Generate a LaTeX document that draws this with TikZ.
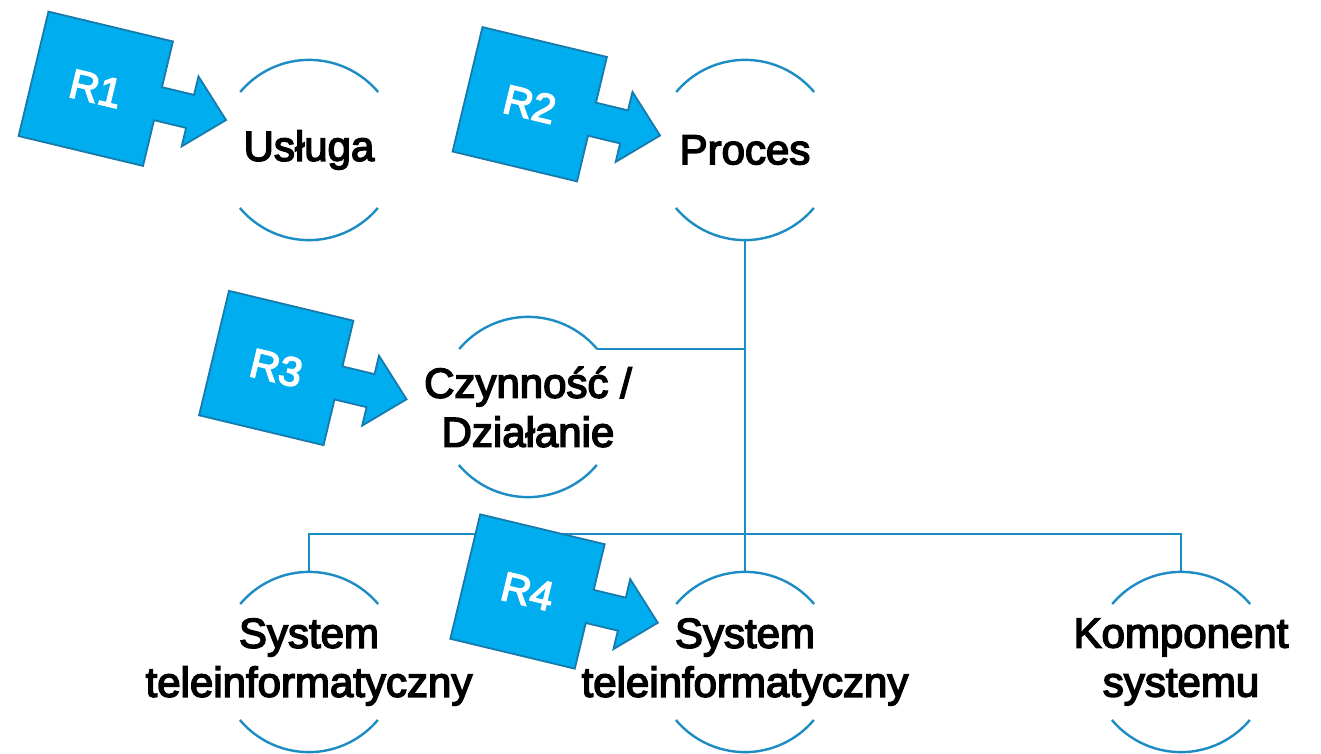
\documentclass[tikz,border=0pt]{standalone}
\usepackage{fontspec}
\setmainfont{Liberation Sans}
\newfontfamily\medfont[FakeBold=3.5]{Liberation Sans}
\definecolor{linecol}{RGB}{30,140,196}
\definecolor{rfill}{RGB}{0,174,239}
\definecolor{rdraw}{RGB}{24,122,172}
\tikzset{
  ring/.style={circle, minimum size=180, inner sep=0pt, draw=none},
  txt/.style={align=center, inner sep=0pt, font=\medfont\fontsize{42}{49}\selectfont, text=black},
  arcline/.style={draw=linecol, line width=2.4},
  conn/.style={draw=linecol, line width=2.4},
  rshape/.style={fill=rfill, draw=rdraw, line width=1.8, line join=miter},
  rlabel/.style={text=white, inner sep=0pt, font=\medfont\fontsize{41}{49}\selectfont, rotate=-13.5}
}
\newcommand{\rarrow}[4]{%
  \begin{scope}[shift={(#1,#2)}, rotate=-13.5]
    \path[rshape] (-64,64) -- (64,64) -- (64,17) -- (97,17) -- (97,36) -- (134,0)
      -- (97,-36) -- (97,-17) -- (64,-17) -- (64,-64) -- (-64,-64) -- cycle;
  \end{scope}
  \node[rlabel] (#3) at (#1,#2) {#4};
}
\newcommand{\ringarcs}[1]{%
  \draw[arcline] (#1.40) arc[start angle=40, end angle=140, radius=90];
  \draw[arcline] (#1.220) arc[start angle=220, end angle=320, radius=90];
}
\begin{document}
\begin{tikzpicture}[x=1pt, y=1pt]
\useasboundingbox (0,0) rectangle (1321,-754);
% rings
\node[ring] (uslug) at (309,-150) {};
\node[ring] (proc) at (745,-150) {};
\node[ring] (czyn) at (528,-407) {};
\node[ring] (sys1) at (309,-662) {};
\node[ring] (sys2) at (745,-662) {};
\node[ring] (komp) at (1181,-662) {};
\foreach \n in {uslug,proc,czyn,sys1,sys2,komp}{\ringarcs{\n}}
% connectors
\coordinate (bus) at (745,-534);
\draw[conn] (proc.south) -- (sys2.north);
\draw[conn] (czyn.40) -- (czyn.40 -| proc.south);
\draw[conn] (sys1.north) |- (bus) -| (komp.north);
% R shapes
\rarrow{95.75}{-88.75}{r1}{R1}
\rarrow{529.75}{-104.25}{r2}{R2}
\rarrow{276.25}{-368}{r3}{R3}
\rarrow{527.5}{-591.5}{r4}{R4}
% texts
\node[txt] (tuslug) at (uslug) {Usługa};
\node[txt] (tproc) at (proc) {Proces};
\node[txt] (tczyn) at (czyn) {Czynność /\\Działanie};
\node[txt] (tsys1) at (sys1) {System\\teleinformatyczny};
\node[txt] (tsys2) at (sys2) {System\\teleinformatyczny};
\node[txt] (tkomp) at (komp) {Komponent\\systemu};
\end{tikzpicture}
\end{document}
